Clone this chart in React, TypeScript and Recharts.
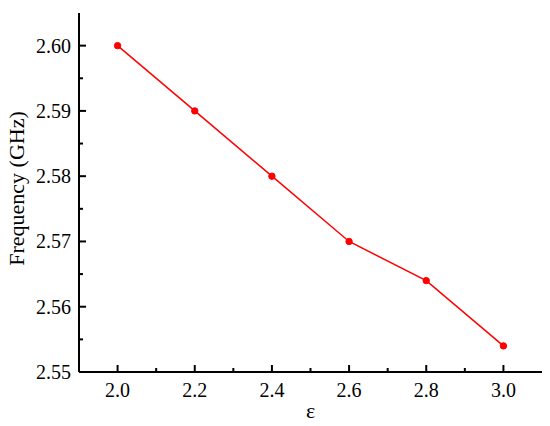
import { Line, LineChart, XAxis, YAxis } from "recharts";

const epsilon = [2.0, 2.2, 2.4, 2.6, 2.8, 3.0];
const frequency = [2.6, 2.59, 2.58, 2.57, 2.564, 2.554];
const xTicks = [2.0, 2.1, 2.2, 2.3, 2.4, 2.5, 2.6, 2.7, 2.8, 2.9, 3.0];
const yTicks = [2.55, 2.555, 2.56, 2.565, 2.57, 2.575, 2.58, 2.585, 2.59, 2.595, 2.6];

const FONT = "'Liberation Serif', 'Times New Roman', serif";
const textStyle = { fontFamily: FONT, fill: "#000" };

const data = epsilon.map((e, i) => ({ eps: e, freq: frequency[i] }));

// ticks drawn inward, major every 0.2, minor in between
function XTick({ x, y, payload }: any) {
  const v = payload.value as number;
  const major = Math.round(v * 10) % 2 === 0;
  return (
    <g>
      <line x1={x} y1={y} x2={x} y2={y - (major ? 7 : 4)} stroke="#000" strokeWidth={2} />
      {major && (
        <text x={x} y={y + 25} textAnchor="middle" fontSize={20} style={textStyle}>
          {v.toFixed(1)}
        </text>
      )}
    </g>
  );
}

function YTick({ x, y, payload }: any) {
  const v = payload.value as number;
  const major = Math.round(v * 1000) % 10 === 0;
  return (
    <g>
      <line x1={x} y1={y} x2={x + (major ? 7 : 4)} y2={y} stroke="#000" strokeWidth={2} />
      {major && (
        <text x={x - 8} y={y + 7} textAnchor="end" fontSize={20} style={textStyle}>
          {v.toFixed(2)}
        </text>
      )}
    </g>
  );
}

function YLabel({ viewBox }: any) {
  const cx = viewBox.x + 16;
  const cy = viewBox.y + viewBox.height / 2 - 4;
  return (
    <text
      x={cx}
      y={cy}
      transform={`rotate(-90, ${cx}, ${cy})`}
      textAnchor="middle"
      dominantBaseline="central"
      fontSize={22}
      style={textStyle}
    >
      Frequency (GHz)
    </text>
  );
}

function XLabel({ viewBox }: any) {
  const cx = viewBox.x + viewBox.width / 2;
  return (
    <text x={cx} y={viewBox.y + 46} textAnchor="middle" fontSize={22} style={textStyle}>
      ε
    </text>
  );
}

export default function App() {
  return (
    <div style={{ position: "absolute", left: 0, top: 0, background: "#fff" }}>
      <LineChart width={550} height={426} data={data} margin={{ top: 13, right: 8, bottom: 0, left: 0 }}>
        <XAxis
          dataKey="eps"
          type="number"
          domain={[1.9, 3.1]}
          ticks={xTicks}
          height={54}
          tickSize={0}
          tickMargin={0}
          tickLine={false}
          tick={<XTick />}
          axisLine={{ stroke: "#000", strokeWidth: 2 }}
          interval={0}
          label={<XLabel />}
        />
        <XAxis
          xAxisId="top"
          dataKey="eps"
          type="number"
          orientation="top"
          domain={[1.9, 3.1]}
          height={0}
          tick={false}
          tickLine={false}
          axisLine={{ stroke: "#000", strokeWidth: 2 }}
        />
        <YAxis
          type="number"
          domain={[2.55, 2.605]}
          ticks={yTicks}
          width={79}
          tickSize={0}
          tickMargin={0}
          tickLine={false}
          tick={<YTick />}
          axisLine={{ stroke: "#000", strokeWidth: 2 }}
          interval={0}
          allowDataOverflow
          label={<YLabel />}
        />
        <YAxis
          yAxisId="right"
          orientation="right"
          type="number"
          domain={[2.55, 2.605]}
          width={0}
          tick={false}
          tickLine={false}
          axisLine={{ stroke: "#000", strokeWidth: 2 }}
        />
        <Line
          type="linear"
          dataKey="freq"
          stroke="#ff0000"
          strokeWidth={1.5}
          dot={{ r: 3.2, fill: "#ff0000", stroke: "#ff0000", strokeWidth: 1 }}
          activeDot={false}
          isAnimationActive={false}
        />
      </LineChart>
    </div>
  );
}
